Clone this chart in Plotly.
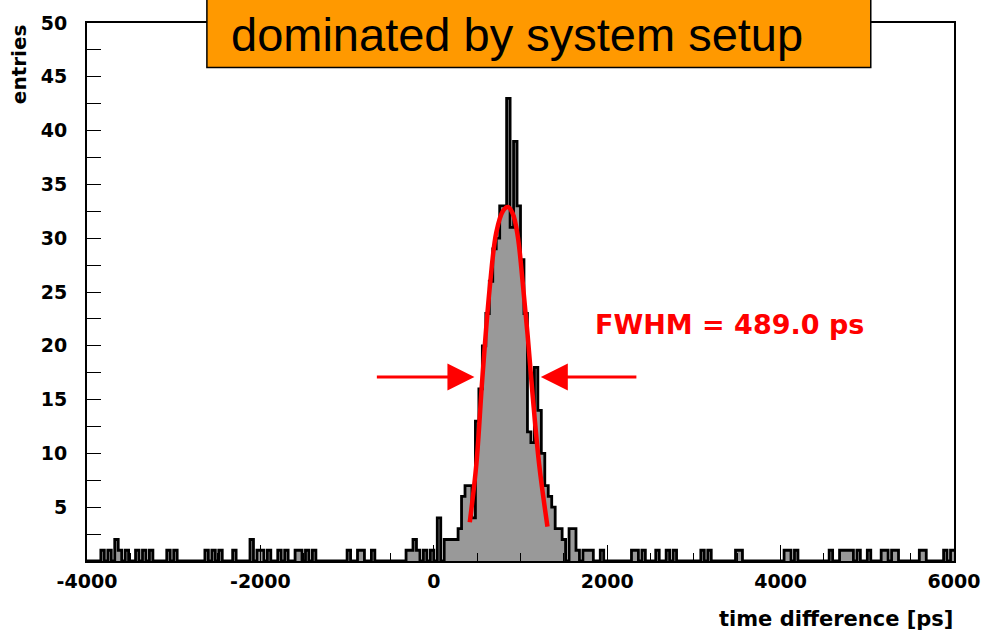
import plotly.graph_objects as go

# ---------------- data ----------------
bin_width = 40            # ps
hist_start = -4000        # ps
n_bins = 250

# counts of consecutive bins starting at 0 ps (the peak region)
peak_start = 0
peak_counts = [0, 4, 0, 2, 2, 2, 2, 3, 6, 7, 7, 4, 13, 16, 20, 23, 26, 29, 30, 33,
               33, 43, 31, 39, 33, 28, 23, 12, 11, 18, 14, 10, 7, 6, 5, 3, 3, 2, 0, 3,
               3, 1, 0, 1, 1, 1]

# sparse tail bins: left edge of bin [ps] and its count
tail_left_edges = [-3840, -3760, -3680, -3640, -3560, -3440, -3360, -3280, -3080, -3000,
                   -2640, -2560, -2480, -2320, -2120, -2040, -2000, -1920, -1800, -1720,
                   -1600, -1560, -1480, -1400, -1000, -880, -840, -720, -320, -280,
                   -240, -200, -120, -40]
tail_left_counts = [1, 1, 2, 1, 1, 1, 1, 1, 1, 1,
                    1, 1, 1, 1, 2, 1, 1, 1, 1, 1,
                    1, 1, 1, 1, 1, 1, 1, 1, 1, 1,
                    2, 1, 1, 1]
tail_right_edges = [1920, 2280, 2320, 2400, 2560, 2680, 2760, 3080, 3160, 3480,
                    3520, 4040, 4080, 4160, 4560, 4680, 4720, 4760, 4800, 4880,
                    5000, 5160, 5200, 5280, 5320, 5600, 5640, 5880, 5960]
tail_right_counts = [1] * len(tail_right_edges)

# red fit curve
fit_t = [415, 491, 560, 644, 720, 796, 853, 910, 968, 1025, 1082, 1139, 1215, 1311]
fit_e = [3.6, 9.0, 17.0, 25.3, 30.5, 32.5, 32.9, 32.3, 30.2, 25.9, 21.0, 15.5, 9.0, 3.2]

# FWHM arrows (tail x, tip x, y level)
arrow_left = (-674, 469)
arrow_right = (2354, 1234)
arrow_y = 17.1
fwhm_label = "FWHM = 489.0 ps"
fwhm_pos = (1840, 22.0)

x_tickvals = [-4000, -2000, 0, 2000, 4000, 6000]
x_ticktext = ["-4000", "-2000", "0", "2000", "4000", "6000"]
x_minor = [v for v in range(-3500, 6000, 500) if v % 2000 != 0]
y_tickvals = [5, 10, 15, 20, 25, 30, 35, 40, 45, 50]
y_minor = [2.5, 7.5, 12.5, 17.5, 22.5, 27.5, 32.5, 37.5, 42.5, 47.5]

# ---------------- build histogram ----------------
counts = [0] * n_bins
def put(edge, c):
    k = int(round((edge - hist_start) / bin_width))
    if 0 <= k < n_bins:
        counts[k] = c
for i, c in enumerate(peak_counts):
    put(peak_start + i * bin_width, c)
for e, c in zip(tail_left_edges, tail_left_counts):
    put(e, c)
for e, c in zip(tail_right_edges, tail_right_counts):
    put(e, c)

xs = [hist_start + k * bin_width for k in range(n_bins)] + [hist_start + n_bins * bin_width]
ys = counts + [counts[-1]]

fig = go.Figure()
fig.add_trace(go.Scatter(
    x=xs, y=ys, mode="lines", line=dict(shape="hv", color="black", width=2.8),
    fill="tozeroy", fillcolor="#999999", hoverinfo="skip", showlegend=False))
fig.add_trace(go.Scatter(
    x=fit_t, y=fit_e, mode="lines", line=dict(shape="spline", smoothing=1.0, color="#FF0000", width=4.5),
    hoverinfo="skip", showlegend=False))

# ---------------- layout ----------------
L, R, T, B = 87, 30, 17, 72
W, H = 992, 633
pw, ph = W - L - R, H - T - B
def px_x(px):
    return (px - L) / pw
def px_y(py):
    return (H - B - py) / ph

tickfont = dict(family="DejaVu Sans", size=19, color="black", weight="bold")

fig.update_layout(
    width=W, height=H, autosize=False,
    margin=dict(l=L, r=R, t=T, b=B),
    paper_bgcolor="white", plot_bgcolor="white",
    xaxis=dict(range=[-4000, 6000], showgrid=False, zeroline=False,
               showline=True, linecolor="black", linewidth=2, mirror=True,
               tickmode="array", tickvals=x_tickvals, ticktext=x_ticktext,
               ticks="inside", ticklen=16,
               tickwidth=1, tickcolor="black", tickfont=tickfont, ticklabelstandoff=2,
               minor=dict(tickmode="array", tickvals=x_minor, ticks="inside",
                          ticklen=8, tickwidth=1, tickcolor="black")),
    yaxis=dict(range=[0, 50], showgrid=False, zeroline=False,
               showline=True, linecolor="black", linewidth=2, mirror=True,
               tickmode="array", tickvals=y_tickvals, ticks="inside", ticklen=14,
               tickwidth=1, tickcolor="black", tickfont=tickfont, ticklabelstandoff=14,
               minor=dict(tickmode="array", tickvals=y_minor, ticks="inside",
                          ticklen=14, tickwidth=1, tickcolor="black")),
    shapes=[dict(type="rect", xref="paper", yref="paper",
                 x0=px_x(208), x1=px_x(878), y0=px_y(62), y1=px_y(-12),
                 fillcolor="#FF9900", line=dict(color="black", width=1.5), layer="above")],
)

annotations = [
    dict(text="dominated by system setup", xref="paper", yref="paper",
         x=px_x(521), y=px_y(29), xanchor="center", yanchor="middle", showarrow=False,
         font=dict(family="Liberation Sans", size=47, color="black")),
    dict(text=fwhm_label, x=fwhm_pos[0], y=fwhm_pos[1], xref="x", yref="y",
         xanchor="left", yanchor="middle", showarrow=False,
         font=dict(family="DejaVu Sans", size=27, color="#FF0000", weight="bold")),
    dict(text="time difference [ps]", xref="paper", yref="paper",
         x=px_x(963), y=px_y(620), xanchor="right", yanchor="middle", showarrow=False,
         font=dict(family="DejaVu Sans", size=21, color="black", weight="bold")),
    dict(text="entries", xref="paper", yref="paper", textangle=-90,
         x=px_x(18), y=px_y(59), xanchor="center", yanchor="middle", showarrow=False,
         font=dict(family="DejaVu Sans", size=20, color="black", weight="bold")),
]
for tail, tip in (arrow_left, arrow_right):
    annotations.append(dict(
        x=tip, y=arrow_y, ax=tail, ay=arrow_y, xref="x", yref="y", axref="x", ayref="y",
        text="", showarrow=True, arrowhead=2, arrowsize=1.8, arrowwidth=3,
        arrowcolor="#FF0000"))
fig.update_layout(annotations=annotations)

fig.write_html("out.html",
               post_script="document.body.style.margin='0';document.body.style.overflow='hidden';")
